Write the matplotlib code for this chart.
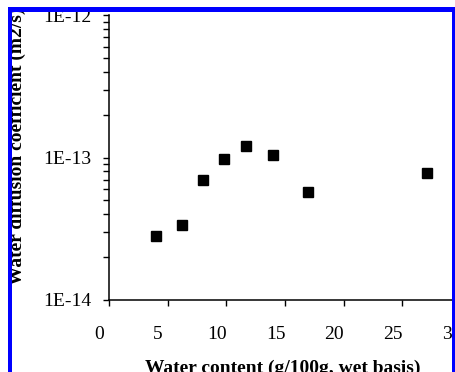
import matplotlib
matplotlib.use("Agg")
import matplotlib.pyplot as plt
from matplotlib.patches import Rectangle
from matplotlib.transforms import ScaledTranslation

# data
water_content = [4.0, 6.2, 8.0, 9.8, 11.7, 14.0, 17.0, 27.1]
diffusion = [2.8e-14, 3.35e-14, 6.9e-14, 9.7e-14, 1.2e-13, 1.04e-13, 5.7e-14, 7.8e-14]

x_ticks = [0, 5, 10, 15, 20, 25, 30]
y_ticks = [1e-14, 1e-13, 1e-12]
y_tick_labels = ["1E-14", "1E-13", "1E-12"]

plt.rcParams['font.family'] = ['Liberation Serif', 'DejaVu Serif']

W, H = 455, 372
fig = plt.figure(figsize=(W / 100, H / 100), dpi=100)

# axes box in pixels: left 109, right 461 (past the edge), top 15, bottom 300
ax = fig.add_axes([109 / W, 1 - 300 / H, (461 - 109) / W, (300 - 15) / H])

ax.plot(water_content, diffusion, linestyle='none', marker='s', ms=7,
        color='black', clip_on=False)

ax.set_yscale('log')
ax.set_ylim(1e-14, 1e-12)
ax.set_xlim(0, 30)
ax.set_xticks(x_ticks)
ax.set_yticks(y_ticks)
ax.set_yticklabels(y_tick_labels)

for s in ['top', 'right']:
    ax.spines[s].set_visible(False)
for s in ['left', 'bottom']:
    ax.spines[s].set_linewidth(1.1)

ax.tick_params(axis='both', which='both', direction='out', width=1.0,
               length=4.5, labelsize=14)
ax.tick_params(axis='x', pad=14)
ax.tick_params(axis='y', pad=8)

# the x labels sit a bit left of their ticks in the original
shift = ScaledTranslation(-9.5 / 100, 0, fig.dpi_scale_trans)
for lab in ax.get_xticklabels():
    lab.set_transform(lab.get_transform() + shift)

# axis titles
fig.text(283 / W, 1 - 360 / H, "Water content (g/100g, wet basis)",
         ha='center', va='top', fontsize=14, fontweight='bold')
fig.text(17 / W, 1 - 285 / H, "Water diffusion coefficient (m2/s)",
         ha='center', va='bottom', rotation=90, fontsize=14, fontweight='bold')

# white margin + blue frame, drawn on top so text gets cut like the original
blue = '#0000ff'
def fig_rect(x0, y0, x1, y1, color):
    fig.add_artist(Rectangle((x0 / W, 1 - y1 / H), (x1 - x0) / W, (y1 - y0) / H,
                             transform=fig.transFigure, color=color,
                             zorder=20, linewidth=0))

fig_rect(0, 0, W, 7, 'white')
fig_rect(0, 0, 8, H, 'white')
fig_rect(8, 7, W, 12, blue)
fig_rect(8, 7, 12, H, blue)
fig_rect(452, 7, W, H, blue)

fig.savefig("out.png", dpi=100)
